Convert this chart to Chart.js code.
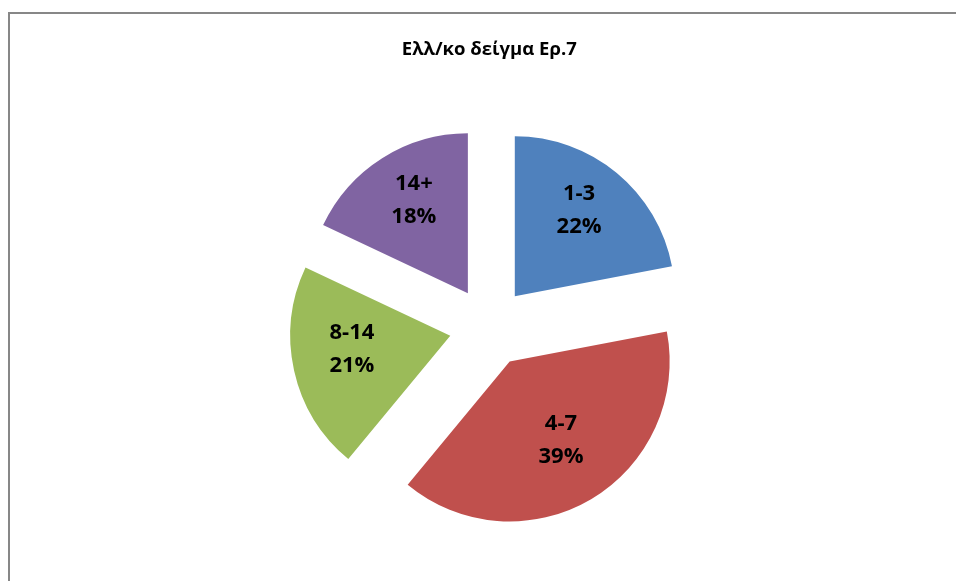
<!DOCTYPE html>
<html>
<head>
<meta charset="utf-8">
<script src="https://cdn.jsdelivr.net/npm/chart.js@4.4.1/dist/chart.umd.min.js"></script>
<style>
  html, body { margin: 0; padding: 0; background: #ffffff; }
  #wrap { width: 956px; height: 581px; }
</style>
</head>
<body>
<div id="wrap"><canvas id="pieChart"></canvas></div>
<script>
const chartTitle = 'Ελλ/κο δείγμα Ερ.7';
const categories = ['1-3', '4-7', '8-14', '14+'];
const percentages = [22, 39, 21, 18];
const sliceColors = ['#4F81BD', '#C0504D', '#9BBB59', '#8064A2'];

const EXPLODE = 40;      // px each slice is pulled out from the centre
const PIE_RADIUS = 160;
const LABEL_POS = 0.63;  // label distance along the bisector, as a share of the radius
const LABEL_LIFT = 8;    // labels sit a little above the bisector point
const LINE_GAP = 33;

function bisector(arc) {
    const p = arc.getProps(['x', 'y', 'startAngle', 'endAngle', 'outerRadius'], true);
    return Object.assign(p, { mid: (p.startAngle + p.endAngle) / 2 });
}

// the built-in arc offset also grows the radius of wide slices,
// so every slice is drawn here shifted by the same distance instead
const explodedSlices = {
    id: 'explodedSlices',
    beforeDatasetDraw(chart, args) {
        const c = chart.ctx;
        args.meta.data.forEach(arc => {
            const p = bisector(arc);
            c.save();
            c.translate(Math.cos(p.mid) * EXPLODE, Math.sin(p.mid) * EXPLODE);
            arc.draw(c);
            c.restore();
        });
        return false;
    }
};

const frameBorder = {
    id: 'frameBorder',
    beforeDraw(chart) {
        const c = chart.ctx;
        c.save();
        c.strokeStyle = '#878787';
        c.lineWidth = 2;
        c.strokeRect(9, 13, chart.width, chart.height);
        c.restore();
    }
};

const sliceLabels = {
    id: 'sliceLabels',
    afterDatasetsDraw(chart) {
        const c = chart.ctx;
        const meta = chart.getDatasetMeta(0);
        c.save();
        c.fillStyle = '#000000';
        c.font = 'bold 22px "Open Sans"';
        c.textAlign = 'center';
        c.textBaseline = 'middle';
        meta.data.forEach((arc, i) => {
            const p = bisector(arc);
            const dist = EXPLODE + p.outerRadius * LABEL_POS;
            const cx = p.x + Math.cos(p.mid) * dist;
            const cy = p.y + Math.sin(p.mid) * dist - LABEL_LIFT;
            c.fillText(categories[i], cx, cy - LINE_GAP / 2);
            c.fillText(percentages[i] + '%', cx, cy + LINE_GAP / 2);
        });
        c.restore();
    }
};

const ctx = document.getElementById('pieChart');

new Chart(ctx, {
    type: 'pie',
    data: {
        labels: categories,
        datasets: [{
            data: percentages,
            backgroundColor: sliceColors,
            borderWidth: 0,
            clip: false
        }]
    },
    options: {
        responsive: true,
        maintainAspectRatio: false,
        animation: false,
        events: [],
        radius: PIE_RADIUS,
        layout: {
            padding: { left: 30, right: 7.4, top: 10, bottom: 8.2 }
        },
        plugins: {
            legend: { display: false },
            tooltip: { enabled: false },
            title: {
                display: true,
                text: chartTitle,
                color: '#000000',
                font: { family: '"Open Sans"', size: 18.5, weight: 'bold', lineHeight: 1.2 },
                padding: { top: 29, bottom: 20 }
            }
        }
    },
    plugins: [explodedSlices, frameBorder, sliceLabels]
});
</script>
</body>
</html>
